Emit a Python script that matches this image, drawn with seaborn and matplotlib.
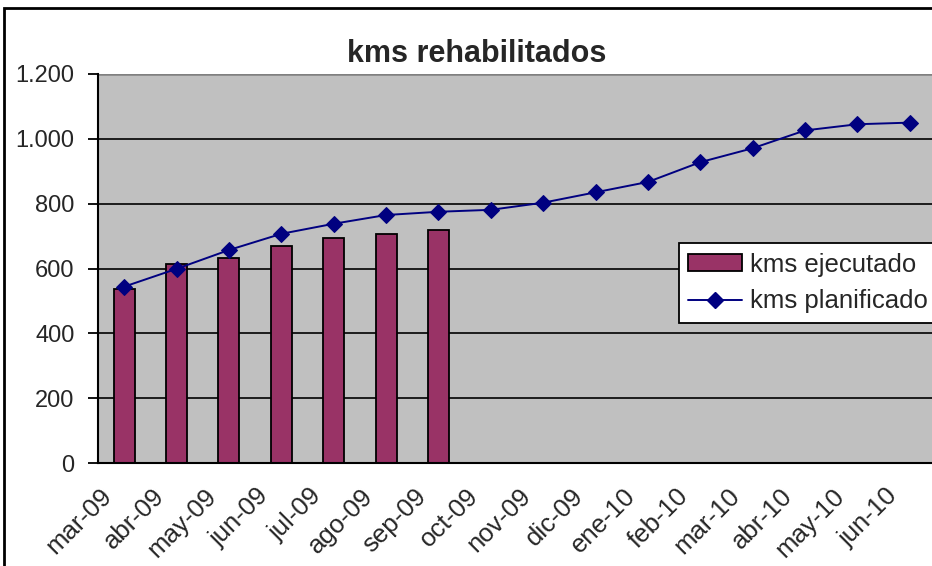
#%% Librerias
import numpy as np
import pandas as pd
import matplotlib
matplotlib.use("Agg")
import matplotlib.pyplot as plt
import matplotlib.patches as mpatches
import seaborn as sns

#%% Datos
meses = ['mar-09', 'abr-09', 'may-09', 'jun-09', 'jul-09', 'ago-09', 'sep-09', 'oct-09',
         'nov-09', 'dic-09', 'ene-10', 'feb-10', 'mar-10', 'abr-10', 'may-10', 'jun-10']
kms_ejecutado = [537, 613, 633, 670, 694, 707, 719]
kms_planificado = [544, 599, 657, 707, 738, 765, 775, 781, 803, 835, 867, 928, 971, 1026, 1045, 1050]
y_ticks = [0, 200, 400, 600, 800, 1000, 1200]
y_labels = ['0', '200', '400', '600', '800', '1.000', '1.200']

#%% Grafica
sns.set_style("white")
plt.rcParams['font.family'] = ['Liberation Sans', 'DejaVu Sans']

fig = plt.figure(figsize=(9.32, 5.66), dpi=100)
ax = fig.add_axes([98/932, 103/566, 838/932, 389/566])
ax.set_facecolor('#C0C0C0')

pos = np.arange(len(meses))
df_bar = pd.DataFrame({'x': pos[:len(kms_ejecutado)], 'y': kms_ejecutado})
df_lin = pd.DataFrame({'x': pos, 'y': kms_planificado})

for v in y_ticks[1:-1]:
    ax.axhline(v, color='black', lw=1.2, zorder=0.5)
ax.axhline(1200, color='#808080', lw=1.8, zorder=0.5)

sns.barplot(data=df_bar, x='x', y='y', native_scale=True, width=0.4,
            color='#993366', edgecolor='black', linewidth=1.3, saturation=1, ax=ax, zorder=2)
sns.lineplot(data=df_lin, x='x', y='y', color='#000080', marker='D', markersize=8,
             markeredgecolor='#000080', linewidth=1.4, ax=ax, zorder=3)

ax.set_xlim(-0.5, len(meses) - 0.5)
ax.set_ylim(0, 1200)
ax.set_yticks(y_ticks)
ax.set_yticklabels(y_labels, fontsize=17)
ax.set_xticks(pos - 0.5)
ax.set_xticklabels([])
ax.set_xticks(pos - 0.15, minor=True)
ax.set_xticklabels(meses, minor=True, rotation=45, ha='right', fontsize=18.5)
ax.tick_params(axis='x', which='major', direction='inout', length=12, width=1.3, color='black')
ax.tick_params(axis='x', which='minor', length=0, pad=15)
ax.tick_params(axis='y', direction='out', length=7, width=1.3, color='black', pad=10, left=True)
ax.set_xlabel('')
ax.set_ylabel('')

for s in ['top', 'right']:
    ax.spines[s].set_visible(False)
for s in ['left', 'bottom']:
    ax.spines[s].set_color('black')
    ax.spines[s].set_linewidth(1.5)

fig.text(477/932, 1 - 62/566, 'kms rehabilitados', fontsize=22, fontweight='bold',
         ha='center', va='baseline')

handles = [mpatches.Patch(facecolor='#993366', edgecolor='black', linewidth=1.3),
           plt.Line2D([], [], color='#000080', marker='D', markersize=8, linewidth=1.4)]
leg = ax.legend(handles, ['kms ejecutado', 'kms planificado'], loc='upper left',
                bbox_to_anchor=(0.693, 0.566), fontsize=18.5, frameon=True, fancybox=False,
                framealpha=1, edgecolor='black', borderpad=0.38, handlelength=2.1,
                handleheight=0.65, handletextpad=0.3, labelspacing=0.5, borderaxespad=0)
leg.get_frame().set_linewidth(1.3)

# borde exterior del grafico
fig.patches.append(mpatches.Rectangle((4/932, -0.1), 1.2, 1 - 8/566 + 0.1, transform=fig.transFigure,
                                      fill=False, edgecolor='black', linewidth=2, zorder=0))

fig.savefig('out.png', dpi=100)
